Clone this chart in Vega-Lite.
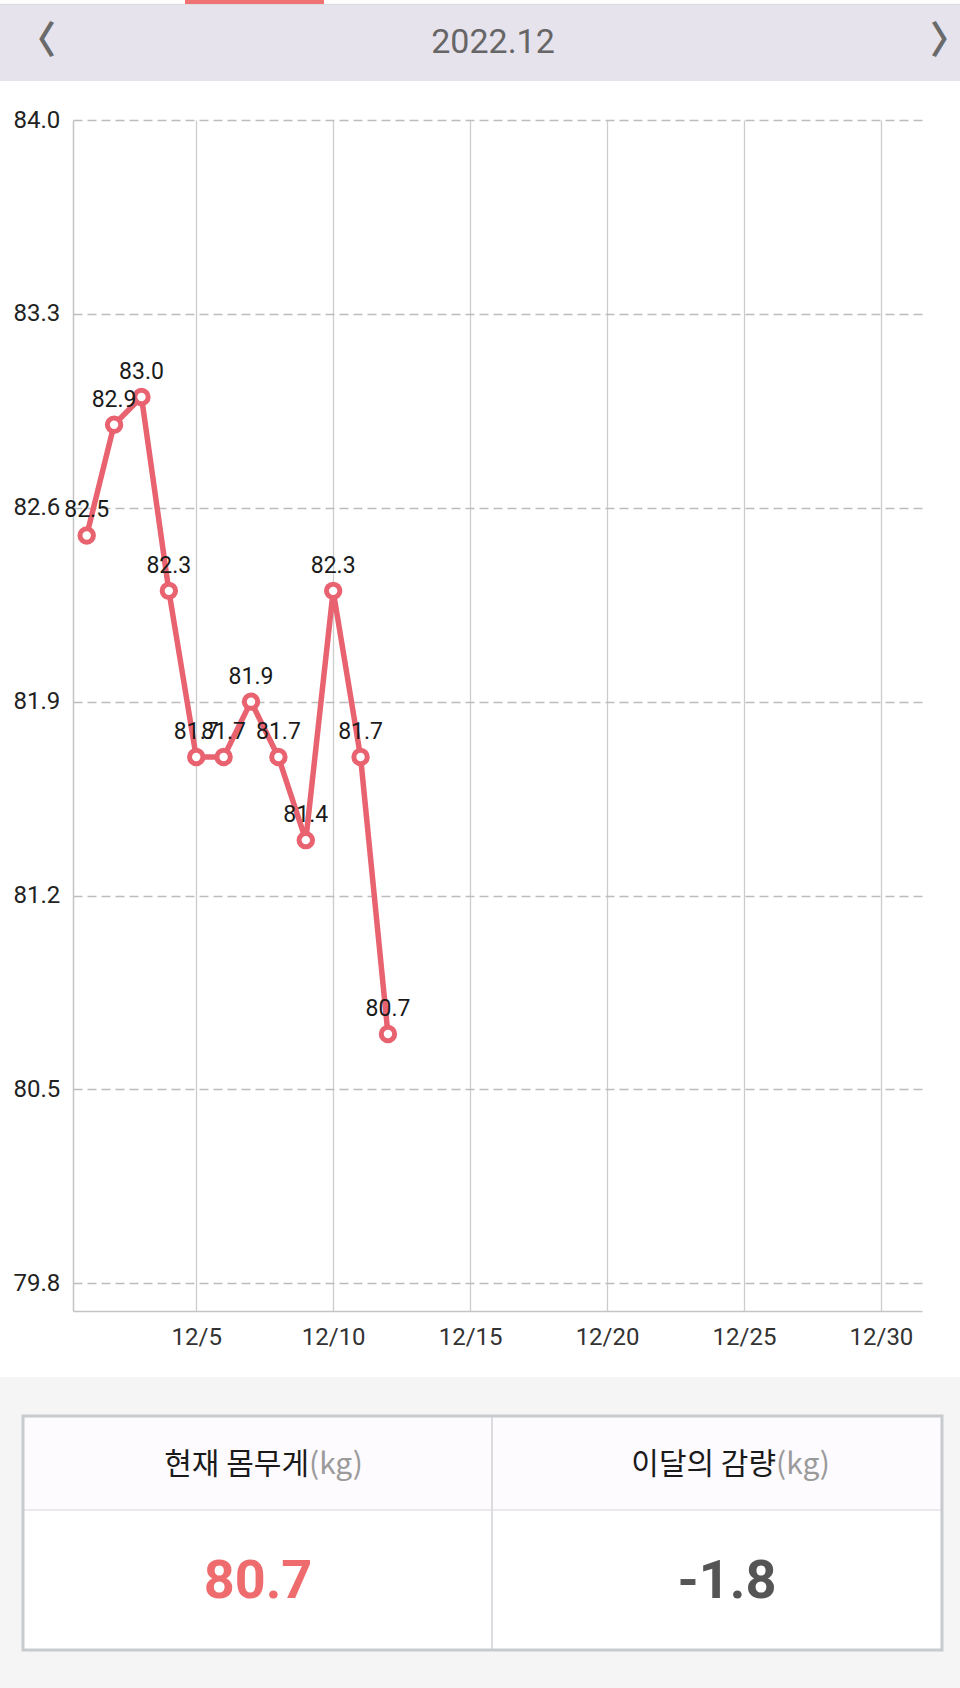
{
  "$schema": "https://vega.github.io/schema/vega-lite/v6.json",
  "width": 849,
  "height": 1191,
  "autosize": {"type": "none"},
  "padding": {"left": 73, "top": 120, "right": 38, "bottom": 377},
  "background": "#ffffff",
  "config": {"view": {"stroke": null}, "font": "Roboto", "axis": {"labelFont": "Roboto"}},
  "data": {
    "values": [
      {"day": 1, "weight": 82.5},
      {"day": 2, "weight": 82.9},
      {"day": 3, "weight": 83.0},
      {"day": 4, "weight": 82.3},
      {"day": 5, "weight": 81.7},
      {"day": 6, "weight": 81.7},
      {"day": 7, "weight": 81.9},
      {"day": 8, "weight": 81.7},
      {"day": 9, "weight": 81.4},
      {"day": 10, "weight": 82.3},
      {"day": 11, "weight": 81.7},
      {"day": 12, "weight": 80.7}
    ]
  },
  "layer": [
    {
      "encoding": {
        "x": {
          "field": "day",
          "type": "quantitative",
          "scale": {"domain": [0.5, 31.5], "nice": false, "zero": false},
          "axis": {
            "title": null,
            "values": [5, 10, 15, 20, 25, 30],
            "labelExpr": "'12/' + datum.value",
            "grid": true,
            "gridColor": "#CCCCCC",
            "gridWidth": 1.3,
            "ticks": false,
            "tickSize": 0,
            "domainColor": "#C4C4C4",
            "domainWidth": 1.5,
            "labelFontSize": 24,
            "labelColor": "#333333",
            "labelPadding": 14
          }
        },
        "y": {
          "field": "weight",
          "type": "quantitative",
          "scale": {"domain": [79.7, 84.0], "nice": false, "zero": false},
          "axis": {
            "title": null,
            "values": [79.8, 80.5, 81.2, 81.9, 82.6, 83.3, 84.0],
            "format": ".1f",
            "grid": true,
            "gridDash": [9, 5],
            "gridColor": "#BDBDBD",
            "gridWidth": 1.3,
            "ticks": false,
            "tickSize": 0,
            "labelAlign": "left",
            "labelPadding": 60,
            "labelFontSize": 24,
            "labelColor": "#222222",
            "domainColor": "#C4C4C4",
            "domainWidth": 1.5
          }
        }
      },
      "layer": [
        {"mark": {"type": "line", "color": "#E8626F", "strokeWidth": 5.5, "strokeJoin": "round"}},
        {"mark": {"type": "point", "shape": "circle", "filled": true, "fill": "#FFFFFF", "stroke": "#E8626F", "strokeWidth": 5, "size": 180, "opacity": 1}},
        {
          "mark": {"type": "text", "dy": -25, "fontSize": 23, "color": "#1A1A1A", "align": "center", "baseline": "middle"},
          "encoding": {"text": {"field": "weight", "type": "quantitative", "format": ".1f"}}
        }
      ]
    },
    {
      "data": {"values": [{}]},
      "mark": {"type": "rect", "color": "#E6E3ED", "clip": false},
      "encoding": {
        "x": {"datum": -3, "type": "quantitative", "title": null},
        "x2": {"datum": 34},
        "y": {"datum": 84.417, "type": "quantitative", "title": null},
        "y2": {"datum": 84.1408}
      }
    },
    {
      "data": {"values": [{}]},
      "mark": {"type": "rule", "color": "#D8D8DC", "strokeWidth": 1, "clip": false},
      "encoding": {
        "x": {"datum": -3, "type": "quantitative", "title": null},
        "x2": {"datum": 34},
        "y": {"datum": 84.4175, "type": "quantitative", "title": null}
      }
    },
    {
      "data": {"values": [{}]},
      "mark": {"type": "rect", "color": "#F07272", "clip": false},
      "encoding": {
        "x": {"datum": 4.5895, "type": "quantitative", "title": null},
        "x2": {"datum": 9.665},
        "y": {"datum": 84.45, "type": "quantitative", "title": null},
        "y2": {"datum": 84.4188}
      }
    },
    {
      "data": {"values": [{}]},
      "mark": {"type": "text", "text": "2022.12", "fontSize": 34, "color": "#666666", "align": "center", "baseline": "middle", "clip": false},
      "encoding": {
        "x": {"datum": 15.836, "type": "quantitative", "title": null},
        "y": {"datum": 84.278, "type": "quantitative", "title": null}
      }
    },
    {
      "data": {"values": [{}]},
      "mark": {"type": "text", "text": "〈", "font": "Noto Sans CJK KR", "fontWeight": "bold", "fontSize": 38, "color": "#6A6A6A", "align": "right", "baseline": "middle", "clip": false},
      "encoding": {
        "x": {"datum": -0.12, "type": "quantitative", "title": null},
        "y": {"datum": 84.28, "type": "quantitative", "title": null}
      }
    },
    {
      "data": {"values": [{}]},
      "mark": {"type": "text", "text": "〉", "font": "Noto Sans CJK KR", "fontWeight": "bold", "fontSize": 38, "color": "#6A6A6A", "align": "left", "baseline": "middle", "clip": false},
      "encoding": {
        "x": {"datum": 31.79, "type": "quantitative", "title": null},
        "y": {"datum": 84.28, "type": "quantitative", "title": null}
      }
    },
    {
      "data": {"values": [{}]},
      "mark": {"type": "rect", "color": "#F5F5F6", "clip": false},
      "encoding": {
        "x": {"datum": -3, "type": "quantitative", "title": null},
        "x2": {"datum": 34},
        "y": {"datum": 79.4617, "type": "quantitative", "title": null},
        "y2": {"datum": 78.2}
      }
    },
    {
      "data": {"values": [{}]},
      "mark": {"type": "rect", "color": "#FDFBFE", "clip": false},
      "encoding": {
        "x": {"datum": -1.3257, "type": "quantitative", "title": null},
        "x2": {"datum": 32.23},
        "y": {"datum": 79.3209, "type": "quantitative", "title": null},
        "y2": {"datum": 78.9815}
      }
    },
    {
      "data": {"values": [{}]},
      "mark": {"type": "rect", "color": "#FFFFFF", "clip": false},
      "encoding": {
        "x": {"datum": -1.3257, "type": "quantitative", "title": null},
        "x2": {"datum": 32.23},
        "y": {"datum": 78.9815, "type": "quantitative", "title": null},
        "y2": {"datum": 78.4761}
      }
    },
    {
      "data": {"values": [{}]},
      "mark": {"type": "rule", "color": "#E3E3E7", "strokeWidth": 1.5, "clip": false},
      "encoding": {
        "x": {"datum": -1.3257, "type": "quantitative", "title": null},
        "x2": {"datum": 32.23},
        "y": {"datum": 78.9815, "type": "quantitative", "title": null}
      }
    },
    {
      "data": {"values": [{}]},
      "mark": {"type": "rule", "color": "#DCDCE0", "strokeWidth": 2, "clip": false},
      "encoding": {
        "x": {"datum": 15.799, "type": "quantitative", "title": null},
        "y": {"datum": 79.3209, "type": "quantitative", "title": null},
        "y2": {"datum": 78.4761}
      }
    },
    {
      "data": {"values": [{}]},
      "mark": {"type": "rect", "filled": false, "stroke": "#C8CBCE", "strokeWidth": 3, "clip": false},
      "encoding": {
        "x": {"datum": -1.3257, "type": "quantitative", "title": null},
        "x2": {"datum": 32.23},
        "y": {"datum": 79.3209, "type": "quantitative", "title": null},
        "y2": {"datum": 78.4761}
      }
    },
    {
      "data": {"values": [{}]},
      "mark": {"type": "text", "text": "현재 몸무게", "font": "Noto Sans CJK KR", "fontSize": 30, "color": "#1A1A1A", "align": "right", "baseline": "middle", "clip": false},
      "encoding": {
        "x": {"datum": 9.117, "type": "quantitative", "title": null},
        "y": {"datum": 79.1441, "type": "quantitative", "title": null}
      }
    },
    {
      "data": {"values": [{}]},
      "mark": {"type": "text", "text": "(kg)", "font": "Noto Sans CJK KR", "fontSize": 30, "color": "#9A9A9A", "align": "left", "baseline": "middle", "clip": false},
      "encoding": {
        "x": {"datum": 9.117, "type": "quantitative", "title": null},
        "y": {"datum": 79.1441, "type": "quantitative", "title": null}
      }
    },
    {
      "data": {"values": [{}]},
      "mark": {"type": "text", "text": "이달의 감량", "font": "Noto Sans CJK KR", "fontSize": 30, "color": "#1A1A1A", "align": "right", "baseline": "middle", "clip": false},
      "encoding": {
        "x": {"datum": 26.17, "type": "quantitative", "title": null},
        "y": {"datum": 79.1441, "type": "quantitative", "title": null}
      }
    },
    {
      "data": {"values": [{}]},
      "mark": {"type": "text", "text": "(kg)", "font": "Noto Sans CJK KR", "fontSize": 30, "color": "#9A9A9A", "align": "left", "baseline": "middle", "clip": false},
      "encoding": {
        "x": {"datum": 26.17, "type": "quantitative", "title": null},
        "y": {"datum": 79.1441, "type": "quantitative", "title": null}
      }
    },
    {
      "data": {"values": [{}]},
      "mark": {"type": "text", "text": "80.7", "font": "Roboto", "fontWeight": "bold", "fontSize": 54, "color": "#EE6B6E", "align": "center", "baseline": "middle", "clip": false},
      "encoding": {
        "x": {"datum": 7.255, "type": "quantitative", "title": null},
        "y": {"datum": 78.7217, "type": "quantitative", "title": null}
      }
    },
    {
      "data": {"values": [{}]},
      "mark": {"type": "text", "text": "-1.8", "font": "Roboto", "fontWeight": "bold", "fontSize": 54, "color": "#555555", "align": "center", "baseline": "middle", "clip": false},
      "encoding": {
        "x": {"datum": 24.38, "type": "quantitative", "title": null},
        "y": {"datum": 78.7217, "type": "quantitative", "title": null}
      }
    }
  ]
}
